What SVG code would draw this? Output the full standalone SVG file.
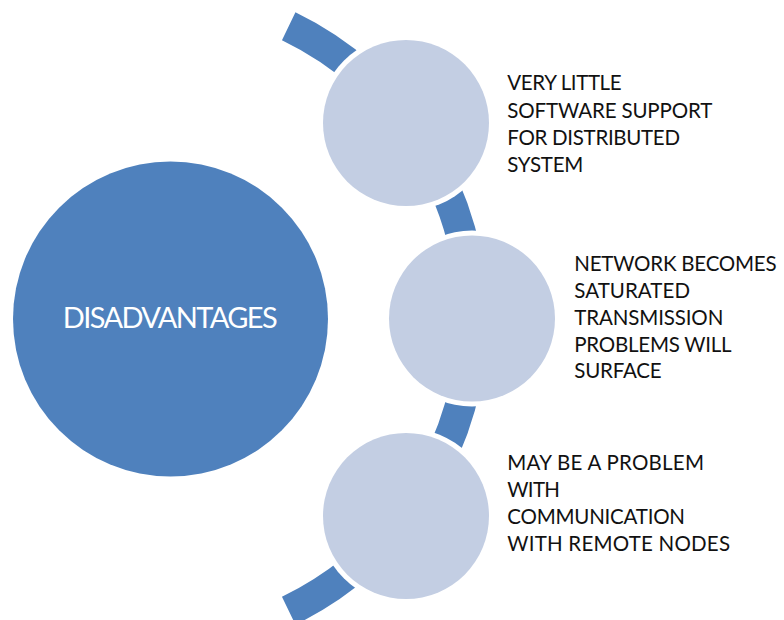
<svg xmlns="http://www.w3.org/2000/svg" width="784" height="620" viewBox="0 0 784 620">
  <style>
    .hub { fill: #4F81BD; }
    .item { fill: #C3CEE3; }
    .gap { fill: #FFFFFF; }
    .band { fill: none; stroke: #4F81BD; stroke-width: 31; stroke-linecap: butt; }
    .label { font-family: Lato, "Open Sans", "DejaVu Sans", sans-serif; font-size: 20.5px; fill: #111111; }
    .hub-label { font-family: Lato, "Open Sans", "DejaVu Sans", sans-serif; font-size: 29px; fill: #FFFFFF; }
  </style>

  <rect x="0" y="0" width="784" height="620" fill="#FFFFFF"/>

  <!-- curved band linking the three items -->
  <g id="connectors">
    <path class="band" d="M288.7,26.3 A324.5,324.5 0 0 1 288.7,610.7"/>
  </g>

  <g id="hub">
    <circle class="hub" cx="170.5" cy="319" r="157.5"/>
    <text class="hub-label" x="62.7" y="328" textLength="215" lengthAdjust="spacing">DISADVANTAGES</text>
  </g>

  <g id="item-software">
    <circle class="gap" cx="406" cy="123" r="88"/>
    <circle class="item" cx="406" cy="123" r="83"/>
    <text class="label" x="507.3" y="90" textLength="114.3" lengthAdjust="spacing">VERY LITTLE</text>
    <text class="label" x="507.3" y="117.5" textLength="205" lengthAdjust="spacing">SOFTWARE SUPPORT</text>
    <text class="label" x="507.3" y="145" textLength="172.7" lengthAdjust="spacing">FOR DISTRIBUTED</text>
    <text class="label" x="507.3" y="171.7" textLength="76" lengthAdjust="spacing">SYSTEM</text>
  </g>

  <g id="item-network">
    <circle class="gap" cx="472" cy="318.5" r="88"/>
    <circle class="item" cx="472" cy="318.5" r="83"/>
    <text class="label" x="574.3" y="270.7" textLength="202.3" lengthAdjust="spacing">NETWORK BECOMES</text>
    <text class="label" x="574.3" y="298" textLength="115.7" lengthAdjust="spacing">SATURATED</text>
    <text class="label" x="574.3" y="325" textLength="149" lengthAdjust="spacing">TRANSMISSION</text>
    <text class="label" x="574.3" y="351.7" textLength="157.3" lengthAdjust="spacing">PROBLEMS WILL</text>
    <text class="label" x="574.3" y="378" textLength="87.3" lengthAdjust="spacing">SURFACE</text>
  </g>

  <g id="item-communication">
    <circle class="gap" cx="406" cy="516" r="88"/>
    <circle class="item" cx="406" cy="516" r="83"/>
    <text class="label" x="507.3" y="470" textLength="196.7" lengthAdjust="spacing">MAY BE A PROBLEM</text>
    <text class="label" x="507.3" y="496.7" textLength="52.7" lengthAdjust="spacing">WITH</text>
    <text class="label" x="507.3" y="524.3" textLength="177.7" lengthAdjust="spacing">COMMUNICATION</text>
    <text class="label" x="507.3" y="551" textLength="222.7" lengthAdjust="spacing">WITH REMOTE NODES</text>
  </g>
</svg>
